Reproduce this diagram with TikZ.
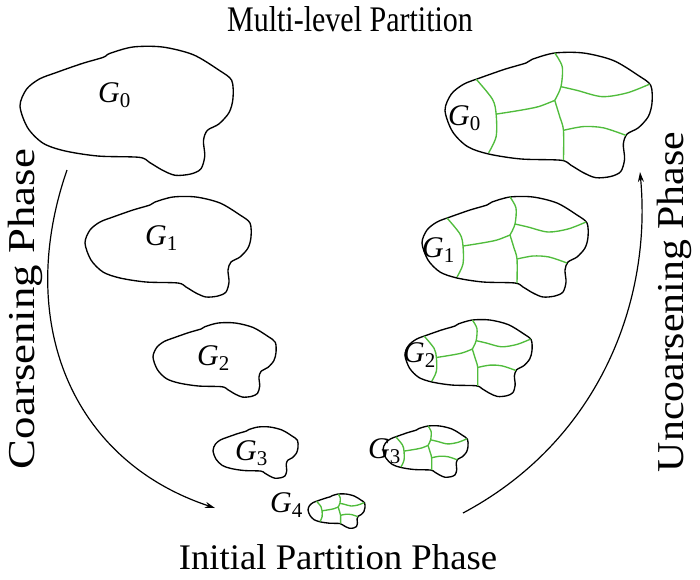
\documentclass[tikz,border=0pt]{standalone}
\usepackage{fontspec}
\usepackage{graphicx}
\setmainfont{Liberation Serif}
\usetikzlibrary{arrows.meta}
\definecolor{partgreen}{RGB}{80,188,60}
\newcommand{\blobshape}{plot[smooth cycle, tension=0.5] coordinates {(0,46)(5,33)(15,25)(28,20)(48,13)(65,8)(70,5)(88,0)(111,0)(135,6)(155,18)(165,26)(166,40)(163,51)(155,60)(146,65)(143,73)(144,85)(141,95)(133,99)(121,100)(111,96)(101,90)(93,86)(61,85)(35,81)(18,75)(6,63)}}
\newcommand{\partlines}{%
  \draw[partline] plot[smooth] coordinates {(25,21)(38,37)(41,49)(41,67)(35,80)};
  \draw[partline] plot[smooth] coordinates {(41,49)(60,46)(75,43)(88,38)};
  \draw[partline] plot[smooth] coordinates {(88,0)(94,11)(93,27)(88,38)};
  \draw[partline] plot[smooth] coordinates {(93,27)(106,30)(126,35)(146,32)(164,25)};
  \draw[partline] plot[smooth] coordinates {(88,38)(92,51)(95,62)(95,86)};
  \draw[partline] plot[smooth] coordinates {(95,62)(111,59)(127,60)(145,66)};
}
\newcommand{\gsub}[1]{\textit{G}\raisebox{-5pt}{\fontsize{21}{21}\selectfont #1}}
\tikzset{
  blobline/.style={line width=1.35pt, black},
  partline/.style={line width=1.35pt, partgreen},
  glabel/.style={font=\fontsize{30}{30}\selectfont, inner sep=0pt, anchor=base west},
  titletext/.style={font=\fontsize{30}{30}\selectfont, inner sep=0pt},
  bottomtext/.style={font=\fontsize{36}{36}\selectfont, inner sep=0pt},
  sidetext/.style={font=\fontsize{38}{38}\selectfont, inner sep=0pt, rotate=90},
  flow/.style={line width=1.2pt, -{Stealth[length=10pt,width=6pt]}}
}
\begin{document}
\begin{tikzpicture}[x=1pt,y=-1pt]
\useasboundingbox (0,0) rectangle (700,579);
% left column (coarsening)
\begin{scope}[shift={(20,47)},scale=1.283] \draw[blobline] \blobshape; \end{scope}
\begin{scope}[shift={(85,197)},scale=1] \draw[blobline] \blobshape; \end{scope}
\begin{scope}[shift={(153,323)},scale=0.741] \draw[blobline] \blobshape; \end{scope}
\begin{scope}[shift={(213,427)},scale=0.512] \draw[blobline] \blobshape; \end{scope}
% right column (partitioned)
\begin{scope}[shift={(445,53)},scale=1.247] \draw[blobline] \blobshape; \partlines \end{scope}
\begin{scope}[shift={(422,197)},scale=1] \draw[blobline] \blobshape; \partlines \end{scope}
\begin{scope}[shift={(405,320)},scale=0.765] \draw[blobline] \blobshape; \partlines \end{scope}
\begin{scope}[shift={(383,426)},scale=0.512] \draw[blobline] \blobshape; \partlines \end{scope}
\begin{scope}[shift={(308,494)},scale=0.343] \draw[blobline] \blobshape; \partlines \end{scope}
% labels
\node[glabel] (l0) at (98,102) {\gsub{0}};
\node[glabel] (l1) at (145,245) {\gsub{1}};
\node[glabel] (l2) at (197,365) {\gsub{2}};
\node[glabel] (l3) at (235,460) {\gsub{3}};
\node[glabel] (g4) at (270,512) {\gsub{4}};
\node[glabel] (r0) at (448,125) {\gsub{0}};
\node[glabel] (r1) at (422,257) {\gsub{1}};
\node[glabel] (r2) at (403,362) {\gsub{2}};
\node[glabel] (r3) at (368,458) {\gsub{3}};
% phase texts
\node[titletext] (title) at (350,19) {\scalebox{1}[1.2]{Multi-level Partition}};
\node[bottomtext] (initial) at (338,557) {\scalebox{1.02}[1]{Initial Partition Phase}};
\node[sidetext] (coarse) at (25,309) {\scalebox{1.18}[1]{Coarsening Phase}};
\node[sidetext] (uncoarse) at (674,302) {\scalebox{1.1}[1]{Uncoarsening Phase}};
% flow arcs
\coordinate (cs) at (67,170);
\coordinate (ce) at (215,508);
\coordinate (us) at (463,513);
\coordinate (ue) at (640,172);
\draw[flow] (cs) .. controls (15,320) and (70,460) .. (ce);
\draw[flow] (us) .. controls (600,440) and (652,300) .. (ue);
\end{tikzpicture}
\end{document}
